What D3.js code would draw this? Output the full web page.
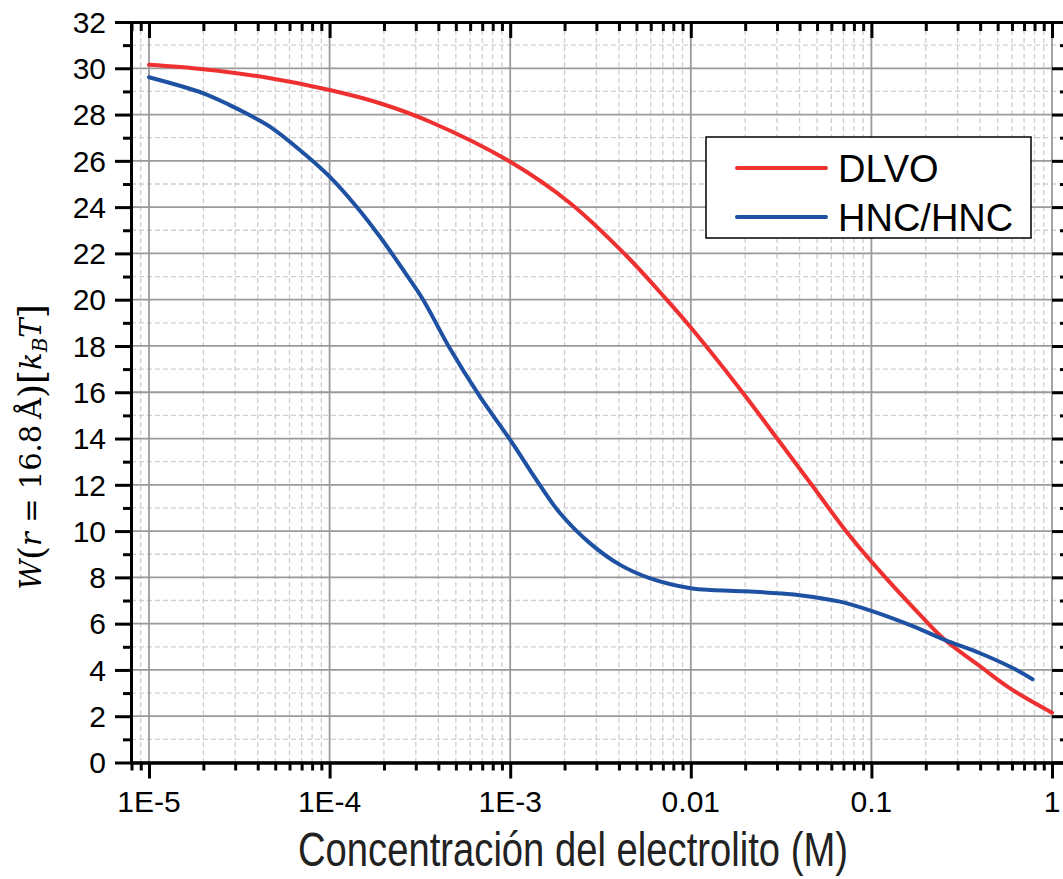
<!DOCTYPE html>
<html>
<head>
<meta charset="utf-8">
<script src="https://cdn.jsdelivr.net/npm/d3@7/dist/d3.min.js"></script>
<style>
  html, body { margin: 0; padding: 0; background: #fff; }
  svg { display: block; }
</style>
</head>
<body>
<svg id="chart" width="1063" height="879"></svg>
<script>
// ---------------- DATA ----------------
const xMajorTicks = [1e-5, 1e-4, 1e-3, 1e-2, 1e-1, 1];
const xTickLabels = ["1E-5", "1E-4", "1E-3", "0.01", "0.1", "1"];
const yMajorTicks = [0, 2, 4, 6, 8, 10, 12, 14, 16, 18, 20, 22, 24, 26, 28, 30, 32];
const yTickLabels = ["0", "2", "4", "6", "8", "10", "12", "14", "16", "18", "20", "22", "24", "26", "28", "30", "32"];
const seriesNames = ["DLVO", "HNC/HNC"];

const dlvoC = [1e-5, 2e-5, 4.3e-5, 1e-4, 1.9e-4, 3.6e-4, 1e-3, 2.15e-3, 4.4e-3, 7.35e-3, 1e-2, 1.95e-2, 3.0e-2, 4.68e-2, 7.15e-2, 0.1, 0.194, 0.256, 0.4, 0.586, 1.0];
const dlvoW = [30.15, 29.96, 29.62, 29.06, 28.49, 27.69, 25.96, 24.17, 21.9, 20.0, 18.8, 15.96, 14.01, 11.99, 10.05, 8.68, 6.23, 5.29, 4.15, 3.2, 2.15];

const hncC = [1e-5, 2e-5, 2.8e-5, 3.6e-5, 4.67e-5, 6.84e-5, 1e-4, 1.41e-4, 1.9e-4, 2.6e-4, 3.3e-4, 4.63e-4, 6.8e-4, 1e-3, 1.46e-3, 1.89e-3, 2.77e-3, 4.06e-3, 5.96e-3, 1e-2, 1.3e-2, 2.0e-2, 3.2e-2, 4.1e-2, 6.7e-2, 0.1, 0.172, 0.256, 0.4, 0.61, 0.78];
const hncW = [29.61, 28.92, 28.41, 27.98, 27.48, 26.47, 25.32, 24.02, 22.72, 21.2, 19.99, 17.9, 15.81, 13.94, 11.99, 10.77, 9.47, 8.54, 7.96, 7.53, 7.45, 7.40, 7.30, 7.22, 6.95, 6.55, 5.87, 5.29, 4.72, 4.07, 3.6];

const xDomain = [7.95e-6, 1.226];
const yDomain = [0, 32];

// ---------------- LAYOUT ----------------
const L = 131, R = 1068, T = 22, B = 762.5;
const svg = d3.select("#chart");
const x = d3.scaleLog().domain(xDomain).range([L, R]);
const y = d3.scaleLinear().domain(yDomain).range([B, T]);

const xMinor = [];
for (let e = -6; e <= 0; e++) {
  for (let m = 2; m <= 9; m++) {
    const v = m * Math.pow(10, e);
    if (v >= xDomain[0] * 0.999 && v <= xDomain[1]) xMinor.push(v);
  }
}
const yMinor = d3.range(1, 32, 2);

// ---------------- GRID ----------------
const grid = svg.append("g");
grid.selectAll(".gxm").data(xMinor).join("line")
  .attr("x1", d => x(d)).attr("x2", d => x(d)).attr("y1", T).attr("y2", B)
  .attr("stroke", "#cfcfcf").attr("stroke-width", 1.3).attr("stroke-dasharray", "5,3");
grid.selectAll(".gym").data(yMinor).join("line")
  .attr("x1", L).attr("x2", R).attr("y1", d => y(d)).attr("y2", d => y(d))
  .attr("stroke", "#cfcfcf").attr("stroke-width", 1.3).attr("stroke-dasharray", "5,3");
grid.selectAll(".gxM").data(xMajorTicks).join("line")
  .attr("x1", d => x(d)).attr("x2", d => x(d)).attr("y1", T).attr("y2", B)
  .attr("stroke", "#9a9a9a").attr("stroke-width", 1.8);
grid.selectAll(".gyM").data(yMajorTicks).join("line")
  .attr("x1", L).attr("x2", R).attr("y1", d => y(d)).attr("y2", d => y(d))
  .attr("stroke", "#9a9a9a").attr("stroke-width", 1.8);

// ---------------- CURVES ----------------
const line = d3.line().x(d => x(d[0])).y(d => y(d[1])).curve(d3.curveCatmullRom.alpha(0.5));
const dlvo = dlvoC.map((c, i) => [c, dlvoW[i]]);
const hnc = hncC.map((c, i) => [c, hncW[i]]);
const colors = ["#ee3130", "#1f51a3"];
svg.append("path").datum(dlvo).attr("d", line)
  .attr("fill", "none").attr("stroke", colors[0]).attr("stroke-width", 4).attr("stroke-linecap", "round");
svg.append("path").datum(hnc).attr("d", line)
  .attr("fill", "none").attr("stroke", colors[1]).attr("stroke-width", 4).attr("stroke-linecap", "round");

// ---------------- AXES ----------------
function styleAxis(g) {
  g.select(".domain").attr("stroke", "#000").attr("stroke-width", 3);
  g.selectAll(".tick line").attr("stroke", "#000").attr("stroke-width", 3);
  g.selectAll(".tick text").remove();
}
// bottom
svg.append("g").attr("transform", `translate(0,${B})`)
  .call(d3.axisBottom(x).tickValues(xMinor).tickSize(8).tickSizeOuter(0).tickFormat(""))
  .call(styleAxis);
svg.append("g").attr("transform", `translate(0,${B})`)
  .call(d3.axisBottom(x).tickValues(xMajorTicks).tickSize(16).tickSizeOuter(0).tickFormat(""))
  .call(styleAxis);
// top (inward)
svg.append("g").attr("transform", `translate(0,${T})`)
  .call(d3.axisBottom(x).tickValues(xMinor).tickSize(9).tickSizeOuter(0).tickFormat(""))
  .call(styleAxis);
svg.append("g").attr("transform", `translate(0,${T})`)
  .call(d3.axisBottom(x).tickValues(xMajorTicks).tickSize(16).tickSizeOuter(0).tickFormat(""))
  .call(styleAxis);
// left
svg.append("g").attr("transform", `translate(${L},0)`)
  .call(d3.axisLeft(y).tickValues(yMinor).tickSize(8).tickSizeOuter(0).tickFormat(""))
  .call(styleAxis);
svg.append("g").attr("transform", `translate(${L},0)`)
  .call(d3.axisLeft(y).tickValues(yMajorTicks).tickSize(16).tickSizeOuter(0).tickFormat(""))
  .call(styleAxis);
// right (inward)
svg.append("g").attr("transform", `translate(${R},0)`)
  .call(d3.axisLeft(y).tickValues(yMinor).tickSize(8).tickSizeOuter(0).tickFormat(""))
  .call(styleAxis);
svg.append("g").attr("transform", `translate(${R},0)`)
  .call(d3.axisLeft(y).tickValues(yMajorTicks).tickSize(16).tickSizeOuter(0).tickFormat(""))
  .call(styleAxis);

// tick labels
const labelFont = "'Liberation Sans', Arial, sans-serif";
svg.append("g").selectAll("text").data(xMajorTicks).join("text")
  .attr("x", d => x(d)).attr("y", 812)
  .attr("text-anchor", "middle").attr("font-family", labelFont).attr("font-size", 30)
  .attr("fill", "#000")
  .text((d, i) => xTickLabels[i]);
svg.append("g").selectAll("text").data(yMajorTicks).join("text")
  .attr("x", 106).attr("y", d => y(d)).attr("dy", "0.36em")
  .attr("text-anchor", "end").attr("font-family", labelFont).attr("font-size", 30)
  .attr("fill", "#000")
  .text((d, i) => yTickLabels[i]);

// x title
svg.append("text")
  .attr("x", 298).attr("y", 866)
  .attr("font-family", "'Liberation Sans Narrow', 'Liberation Sans', Arial, sans-serif")
  .attr("font-size", 49).attr("fill", "#222")
  .attr("textLength", 550).attr("lengthAdjust", "spacingAndGlyphs")
  .text("Concentración del electrolito (M)");

// y title (math style)
const yt = svg.append("text")
  .attr("transform", "translate(41,447) rotate(-90)")
  .attr("text-anchor", "middle")
  .attr("font-family", "'DejaVu Serif', 'Liberation Serif', serif")
  .attr("font-size", 29).attr("fill", "#000");
yt.append("tspan").attr("font-style", "italic").text("W");
yt.append("tspan").attr("font-size", 36).attr("dy", 3).text("(");
yt.append("tspan").attr("font-style", "italic").attr("dy", -3).text("r");
yt.append("tspan").text(" = 16.8\u2009Å");
yt.append("tspan").attr("font-size", 36).attr("dy", 3).text(")[");
yt.append("tspan").attr("font-style", "italic").attr("dy", -3).text("k");
yt.append("tspan").attr("font-style", "italic").attr("font-size", 20).attr("dy", 6).text("B");
yt.append("tspan").attr("font-style", "italic").attr("dy", -6).text("T");
yt.append("tspan").attr("font-size", 36).attr("dy", 3).text("]");

// ---------------- LEGEND ----------------
const lg = svg.append("g");
lg.append("rect").attr("x", 706).attr("y", 137).attr("width", 325).attr("height", 101)
  .attr("fill", "#fff").attr("stroke", "#000").attr("stroke-width", 1.5);
const legY = [168, 217];
seriesNames.forEach((name, i) => {
  lg.append("line").attr("x1", 737).attr("x2", 826).attr("y1", legY[i]).attr("y2", legY[i])
    .attr("stroke", colors[i]).attr("stroke-width", 4).attr("stroke-linecap", "round");
  lg.append("text").attr("x", 838).attr("y", legY[i] + 14)
    .attr("font-family", labelFont).attr("font-size", 38).attr("fill", "#000")
    .text(name);
});
</script>
</body>
</html>
